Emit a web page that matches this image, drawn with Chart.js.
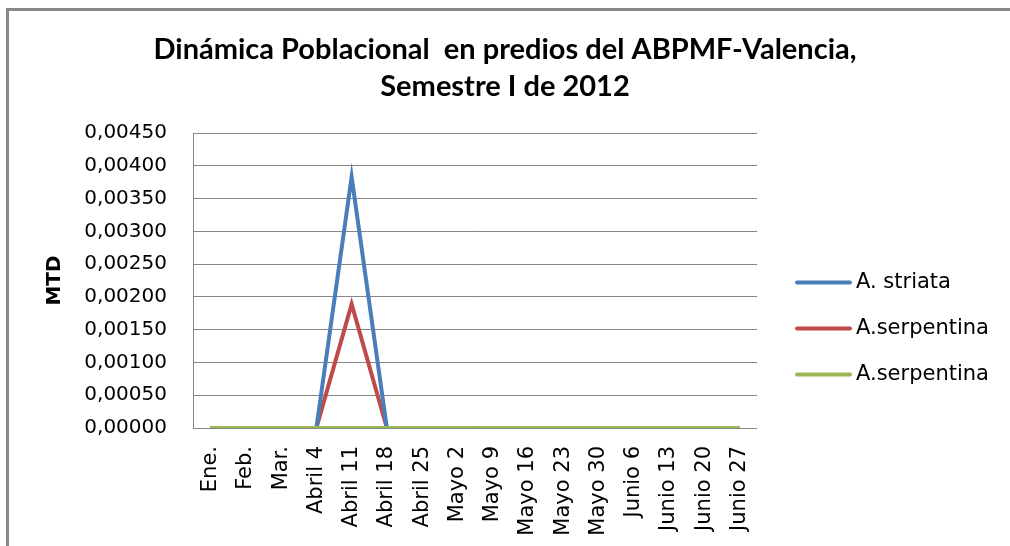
<!DOCTYPE html>
<html>
<head>
<meta charset="utf-8">
<script src="https://cdn.jsdelivr.net/npm/chart.js@4"></script>
<style>
    body { margin: 0; background: #fff; }
    canvas { display: block; }
</style>
</head>
<body>
<canvas id="chart" width="1010" height="546"></canvas>
<script>
"use strict";

const fechas = ["Ene.", "Feb.", "Mar.", "Abril 4", "Abril 11", "Abril 18", "Abril 25",
    "Mayo 2", "Mayo 9", "Mayo 16", "Mayo 23", "Mayo 30",
    "Junio 6", "Junio 13", "Junio 20", "Junio 27"];
const striata = [0, 0, 0, 0, 0.00383, 0, 0, 0, 0, 0, 0, 0, 0, 0, 0, 0];
const serpentina = [0, 0, 0, 0, 0.00189, 0, 0, 0, 0, 0, 0, 0, 0, 0, 0, 0];
const serpentina2 = [0, 0, 0, 0, 0, 0, 0, 0, 0, 0, 0, 0, 0, 0, 0, 0];
const nombres = ["A. striata", "A.serpentina", "A.serpentina"];
const titulo = ["Dinámica Poblacional  en predios del ABPMF-Valencia,", "Semestre I de 2012"];

(function() {
    // white background + the grey frame on the left and top
    const frame = {
        id: "frame",
        beforeDraw(chart) {
            const ctx = chart.ctx;
            ctx.save();
            ctx.fillStyle = "#fff";
            ctx.fillRect(0, 0, chart.width, chart.height);
            ctx.fillStyle = "#888";
            ctx.fillRect(6, 8, 3, chart.height - 8);
            ctx.fillRect(6, 8, chart.width - 6, 3);
            ctx.restore();
        }
    };

    // legend on the right, drawn in dataset order
    const sideLegend = {
        id: "sideLegend",
        afterDraw(chart) {
            const ctx = chart.ctx;
            const area = chart.chartArea;
            const mid = (area.top + area.bottom) / 2;
            ctx.save();
            ctx.font = "21px 'DejaVu Sans'";
            ctx.textBaseline = "middle";
            ctx.fillStyle = "#000";
            chart.data.datasets.forEach(function(ds, i) {
                const y = mid + 2 + i * 46;
                ctx.strokeStyle = ds.borderColor;
                ctx.lineWidth = 4;
                ctx.lineCap = "round";
                ctx.beginPath();
                ctx.moveTo(area.right + 40, y);
                ctx.lineTo(area.right + 93, y);
                ctx.stroke();
                ctx.fillText(ds.label, area.right + 99, y);
            });
            ctx.restore();
        }
    };

    function Start() {
        const ctx = document.getElementById("chart").getContext("2d");
        new Chart(ctx, {
            type: "line",
            data: {
                labels: fechas,
                datasets: [{
                    label: nombres[0],
                    data: striata,
                    borderColor: "#4a7ebb",
                    order: 1,
                }, {
                    label: nombres[1],
                    data: serpentina,
                    borderColor: "#be4b48",
                    order: 2,
                }, {
                    label: nombres[2],
                    data: serpentina2,
                    borderColor: "#98b954",
                    order: 0,
                }],
            },
            options: {
                responsive: false,
                animation: false,
                elements: {
                    line: { borderWidth: 4, tension: 0 },
                    point: { radius: 0 },
                },
                plugins: {
                    legend: { display: false },
                    tooltip: { enabled: false },
                    title: {
                        display: true,
                        text: titulo,
                        color: "#000",
                        font: { family: "Lato", size: 29, weight: "bold", lineHeight: 37 / 29 },
                        padding: { top: 31, bottom: 28 },
                    },
                },
                scales: {
                    x: {
                        offset: true,
                        grid: { display: false, drawTicks: false },
                        border: { display: false },
                        ticks: {
                            color: "#000",
                            font: { family: "'DejaVu Sans'", size: 21 },
                            minRotation: 90,
                            maxRotation: 90,
                            autoSkip: false,
                            padding: 18,
                        },
                        afterFit(scale) { scale.height = 118; },
                    },
                    y: {
                        min: 0,
                        max: 0.0045,
                        grid: { color: "#868686", drawTicks: false },
                        border: { color: "#868686" },
                        ticks: {
                            stepSize: 0.0005,
                            color: "#000",
                            font: { family: "'DejaVu Sans'", size: 20 },
                            padding: 26,
                            callback: (v) => v.toFixed(5).replace(".", ","),
                        },
                        title: {
                            display: true,
                            text: "MTD",
                            color: "#000",
                            font: { family: "'DejaVu Sans'", size: 20, weight: "bold" },
                            padding: { top: 43, bottom: 0 },
                        },
                        afterFit(scale) { scale.width = 193; },
                    },
                    // empty axis that keeps room for the legend on the right
                    legendRoom: {
                        type: "linear",
                        position: "right",
                        grid: { display: false, drawTicks: false },
                        border: { display: false },
                        ticks: { display: false },
                        afterFit(scale) { scale.width = 253; },
                    },
                },
            },
            plugins: [frame, sideLegend],
        });
    }

    window.addEventListener("load", Start);
})();
</script>
</body>
</html>
